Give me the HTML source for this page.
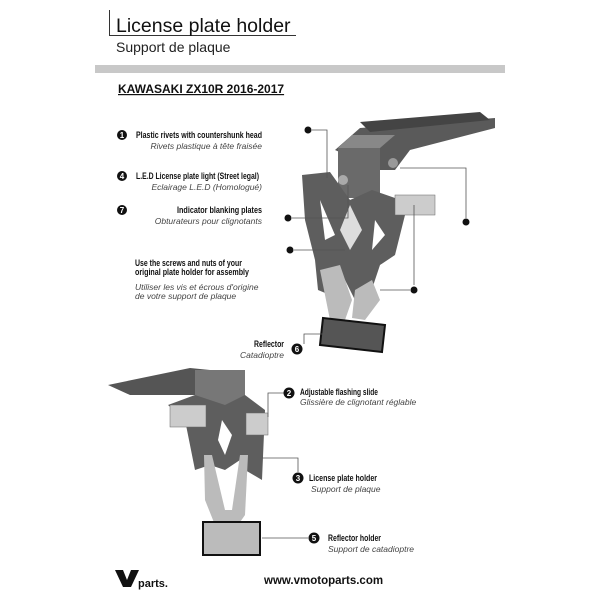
<!DOCTYPE html>
<html><head><meta charset="utf-8"><style>
html,body{margin:0;padding:0;background:#fff;}
svg{display:block;}
text{font-family:"Liberation Sans",sans-serif;}
.b{font-weight:bold;font-size:9px;fill:#111;}
.i{font-style:italic;font-size:8.5px;fill:#444;}
.n{font-weight:bold;font-size:8px;fill:#fff;text-anchor:middle;}
</style></head><body>
<svg width="600" height="600" viewBox="0 0 600 600" xmlns="http://www.w3.org/2000/svg">
<rect width="600" height="600" fill="#fff"/>
<line x1="109.5" y1="10" x2="109.5" y2="35" stroke="#333" stroke-width="1"/>
<line x1="109" y1="35.5" x2="296" y2="35.5" stroke="#333" stroke-width="1"/>
<text x="116" y="32" font-size="19.5" fill="#111">License plate holder</text>
<text x="116" y="52" font-size="14" fill="#222">Support de plaque</text>
<rect x="95" y="65" width="410" height="8" fill="#c8c8c8"/>
<text x="118" y="93" font-size="12" font-weight="bold" fill="#111" text-decoration="underline">KAWASAKI ZX10R 2016-2017</text>

<!-- legend -->
<circle cx="122" cy="135" r="5" fill="#111"/><text class="n" x="122" y="138">1</text>
<text class="b" x="136" y="138" textLength="126" lengthAdjust="spacingAndGlyphs">Plastic rivets with countershunk head</text>
<text class="i" x="262" y="149" text-anchor="end">Rivets plastique à tête fraisée</text>
<circle cx="122" cy="176" r="5" fill="#111"/><text class="n" x="122" y="179">4</text>
<text class="b" x="136" y="179" textLength="123" lengthAdjust="spacingAndGlyphs">L.E.D License plate light (Street legal)</text>
<text class="i" x="262" y="190" text-anchor="end">Eclairage L.E.D (Homologué)</text>
<circle cx="122" cy="210" r="5" fill="#111"/><text class="n" x="122" y="213">7</text>
<text class="b" x="177" y="213" textLength="85" lengthAdjust="spacingAndGlyphs">Indicator blanking plates</text>
<text class="i" x="262" y="224" text-anchor="end">Obturateurs pour clignotants</text>
<text class="b" x="135" y="266" textLength="107" lengthAdjust="spacingAndGlyphs">Use the screws and nuts of your</text>
<text class="b" x="135" y="275" textLength="114" lengthAdjust="spacingAndGlyphs">original plate holder for assembly</text>
<text class="i" x="135" y="290">Utiliser les vis et écrous d'origine</text>
<text class="i" x="135" y="299">de votre support de plaque</text>

<!-- top drawing -->
<polygon points="335,150 360,128 495,118 495,128 410,150 395,170 380,170" fill="#5a5a5a"/>
<polygon points="360,122 480,112 490,120 370,132" fill="#444"/>
<rect x="338" y="148" width="42" height="50" fill="#6a6a6a"/>
<polygon points="338,148 380,148 395,135 352,135" fill="#888"/>
<polygon points="302,175 330,172 350,200 372,190 395,198 410,195 395,255 380,265 370,295 355,300 345,280 330,295 318,290 315,260 305,220" fill="#5e5e5e"/>
<polygon points="320,270 340,265 352,300 345,320 330,320" fill="#bbb"/>
<polygon points="355,290 372,280 380,300 365,320 352,318" fill="#bbb"/>
<polygon points="320,200 335,235 325,240" fill="#fff"/>
<polygon points="350,205 362,230 350,250 340,230" fill="#ddd"/>
<polygon points="375,220 385,235 372,250" fill="#fff"/>
<rect x="395" y="195" width="40" height="20" fill="#ccc" stroke="#666" stroke-width="0.5"/>
<circle cx="343" cy="180" r="5" fill="#aaa"/>
<circle cx="393" cy="163" r="5" fill="#999"/>
<polygon points="323,318 385,325 382,352 320,345" fill="#555" stroke="#111" stroke-width="2"/>
<!-- callouts top -->
<g stroke="#555" stroke-width="0.8" fill="none">
<polyline points="312,130 327,130 327,178"/>
<polyline points="292,218 348,218 348,185"/>
<polyline points="294,250 345,250"/>
<polyline points="400,168 466,168 466,218"/>
<polyline points="380,290 410,290"/>
<polyline points="414,205 414,285"/>
<polyline points="336,334 304,334 304,344"/>
</g>
<circle cx="308" cy="130" r="3.5" fill="#111"/>
<circle cx="288" cy="218" r="3.5" fill="#111"/>
<circle cx="290" cy="250" r="3.5" fill="#111"/>
<circle cx="466" cy="222" r="3.5" fill="#111"/>
<circle cx="414" cy="290" r="3.5" fill="#111"/>
<circle cx="297" cy="349" r="5.5" fill="#111"/><text class="n" x="297" y="352">6</text>
<text class="b" x="254" y="347" textLength="30" lengthAdjust="spacingAndGlyphs">Reflector</text>
<text class="i" x="284" y="358" text-anchor="end">Catadioptre</text>

<!-- bottom drawing -->
<polygon points="108,385 190,368 230,372 245,385 230,395 130,395" fill="#555"/>
<rect x="195" y="370" width="50" height="35" fill="#777"/>
<polygon points="168,405 195,395 225,405 245,395 265,410 262,480 245,470 240,460 225,470 210,465 195,470 185,420" fill="#5e5e5e"/>
<rect x="170" y="405" width="36" height="22" fill="#ccc" stroke="#666" stroke-width="0.5"/>
<rect x="246" y="413" width="22" height="22" fill="#ccc" stroke="#666" stroke-width="0.5"/>
<polygon points="204,455 212,455 225,510 232,510 240,455 248,455 245,515 238,525 215,525 205,500" fill="#bbb"/>
<polygon points="222,420 232,435 225,455 218,440" fill="#fff"/>
<rect x="203" y="522" width="57" height="33" fill="#bbb" stroke="#111" stroke-width="2"/>
<g stroke="#555" stroke-width="0.8" fill="none">
<polyline points="268,417 268,393 284,393"/>
<polyline points="262,458 298,458 298,472"/>
<polyline points="262,538 308,538"/>
</g>
<circle cx="289" cy="393" r="5.5" fill="#111"/><text class="n" x="289" y="396">2</text>
<text class="b" x="300" y="395" textLength="78" lengthAdjust="spacingAndGlyphs">Adjustable flashing slide</text>
<text class="i" x="300" y="405">Glissière de clignotant réglable</text>
<circle cx="298" cy="478" r="5.5" fill="#111"/><text class="n" x="298" y="481">3</text>
<text class="b" x="309" y="481" textLength="68" lengthAdjust="spacingAndGlyphs">License plate holder</text>
<text class="i" x="311" y="492">Support de plaque</text>
<circle cx="314" cy="538" r="5.5" fill="#111"/><text class="n" x="314" y="541">5</text>
<text class="b" x="328" y="541" textLength="53" lengthAdjust="spacingAndGlyphs">Reflector holder</text>
<text class="i" x="328" y="552">Support de catadioptre</text>

<polygon points="115,570 123,570 127,580 131,570 139,570 131,587 123,587" fill="#111"/>
<text x="138" y="587" font-size="11" font-weight="bold" fill="#111">parts.</text>
<text x="264" y="584" font-size="11.5" font-weight="bold" fill="#111">www.vmotoparts.com</text>
</svg>
</body></html>
